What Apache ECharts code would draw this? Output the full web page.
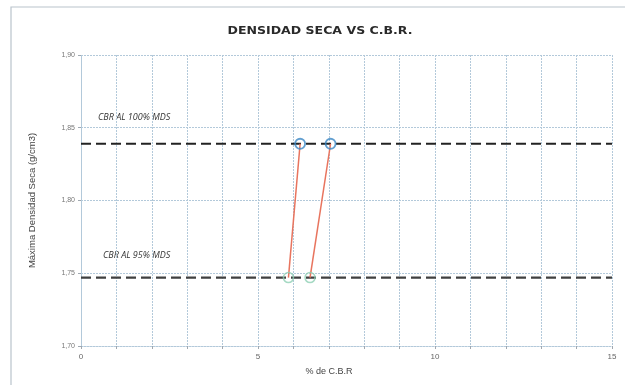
<!DOCTYPE html>
<html>
<head>
<meta charset="utf-8">
<script src="https://cdn.jsdelivr.net/npm/echarts@6/dist/echarts.min.js"></script>
<style>
  html, body { margin: 0; padding: 0; background: #fff; }
  #chart { width: 625px; height: 385px; }
</style>
</head>
<body>
<div id="chart"></div>
<script>
// CBR values (%) read at the two density levels, one per compaction curve
const cbrAt100 = [6.19, 7.05];
const cbrAt95 = [5.86, 6.47];
// Maximum dry density and its 95 % level (g/cm3)
const mdsLevels = [1.839, 1.747];
// Horizontal extent of the reference lines
const refRange = [0, 15];
const refLabels = ['CBR AL 100% MDS', 'CBR AL 95% MDS'];

const chart = echarts.init(document.getElementById('chart'));

const gridColor = '#b3c9da';

const series = [];

// Dashed reference lines at 100 % and 95 % MDS
mdsLevels.forEach((lvl, i) => {
  series.push({
    type: 'line',
    data: refRange.map(x => [x, lvl]),
    symbol: 'none',
    silent: true,
    lineStyle: { color: i === 0 ? '#222' : '#404040', width: 2.2, type: [10, 5] },
    z: 2
  });
});

// Links between the 95 % and 100 % readings of each curve
cbrAt95.forEach((x95, i) => {
  series.push({
    type: 'line',
    data: [[x95, mdsLevels[1]], [cbrAt100[i], mdsLevels[0]]],
    symbol: 'none',
    lineStyle: { color: '#e8745e', width: 1.5 },
    z: 3
  });
});

// Reading markers
series.push({
  type: 'scatter',
  data: cbrAt100.map(x => [x, mdsLevels[0]]),
  symbol: 'circle',
  symbolSize: 10,
  itemStyle: { color: 'rgba(255,255,255,0)', borderColor: '#3b87c4', borderWidth: 1.8 },
  z: 4
});
series.push({
  type: 'scatter',
  data: cbrAt95.map(x => [x, mdsLevels[1]]),
  symbol: 'circle',
  symbolSize: 10,
  itemStyle: { color: 'rgba(255,255,255,0)', borderColor: '#8fcfb4', borderWidth: 1.5 },
  z: 4
});

const option = {
  backgroundColor: '#fff',
  animation: false,
  grid: { left: 81, right: 13, top: 55, bottom: 39, containLabel: false },
  xAxis: {
    type: 'value',
    min: 0, max: 15, interval: 1,
    axisLine: { show: true, lineStyle: { color: gridColor, type: [2, 1] } },
    axisTick: { show: true, length: 3, lineStyle: { color: '#a0a8b0' } },
    axisLabel: {
      color: '#666', fontSize: 8, fontFamily: 'Liberation Sans', margin: 7,
      formatter: v => (v % 5 === 0 ? String(v) : '')
    },
    splitLine: { show: true, lineStyle: { color: gridColor, type: [2, 1], width: 1 } }
  },
  yAxis: {
    type: 'value',
    min: 1.70, max: 1.90, interval: 0.05,
    name: 'Máxima Densidad Seca (g/cm3)',
    nameLocation: 'middle',
    nameGap: 44,
    nameTextStyle: { color: '#444', fontSize: 9.5, fontFamily: 'Liberation Sans' },
    axisLine: { show: true, lineStyle: { color: gridColor, type: [2, 1] } },
    axisTick: { show: true, length: 3, lineStyle: { color: '#a0a8b0' } },
    axisLabel: {
      color: '#777', fontSize: 7, fontFamily: 'Liberation Sans', margin: 6,
      formatter: v => v.toFixed(2).replace('.', ',')
    },
    splitLine: { show: true, lineStyle: { color: gridColor, type: [2, 1], width: 1 } }
  },
  graphic: [
    {
      type: 'rect', silent: true, z: -1,
      shape: { x: 11, y: 7, width: 640, height: 400 },
      style: { fill: 'none', stroke: '#b9c4cc', lineWidth: 1.2 }
    },
    {
      type: 'text', x: 320, y: 31, scaleX: 1.14,
      style: {
        text: 'DENSIDAD SECA VS C.B.R.',
        fill: '#2a2a2a', font: 'bold 11px "DejaVu Sans"',
        align: 'center', verticalAlign: 'middle'
      }
    },
    {
      type: 'text', x: 329, y: 372,
      style: {
        text: '% de C.B.R', fill: '#444', font: '9px "Liberation Sans"',
        align: 'center', verticalAlign: 'middle'
      }
    },
    {
      type: 'text', x: 98, y: 117,
      style: {
        text: refLabels[0], fill: '#333', font: 'italic 9px "Open Sans"',
        verticalAlign: 'middle'
      }
    },
    {
      type: 'text', x: 103, y: 255,
      style: {
        text: refLabels[1], fill: '#333', font: 'italic 9px "Open Sans"',
        verticalAlign: 'middle'
      }
    }
  ],
  series: series
};

chart.setOption(option);
</script>
</body>
</html>
